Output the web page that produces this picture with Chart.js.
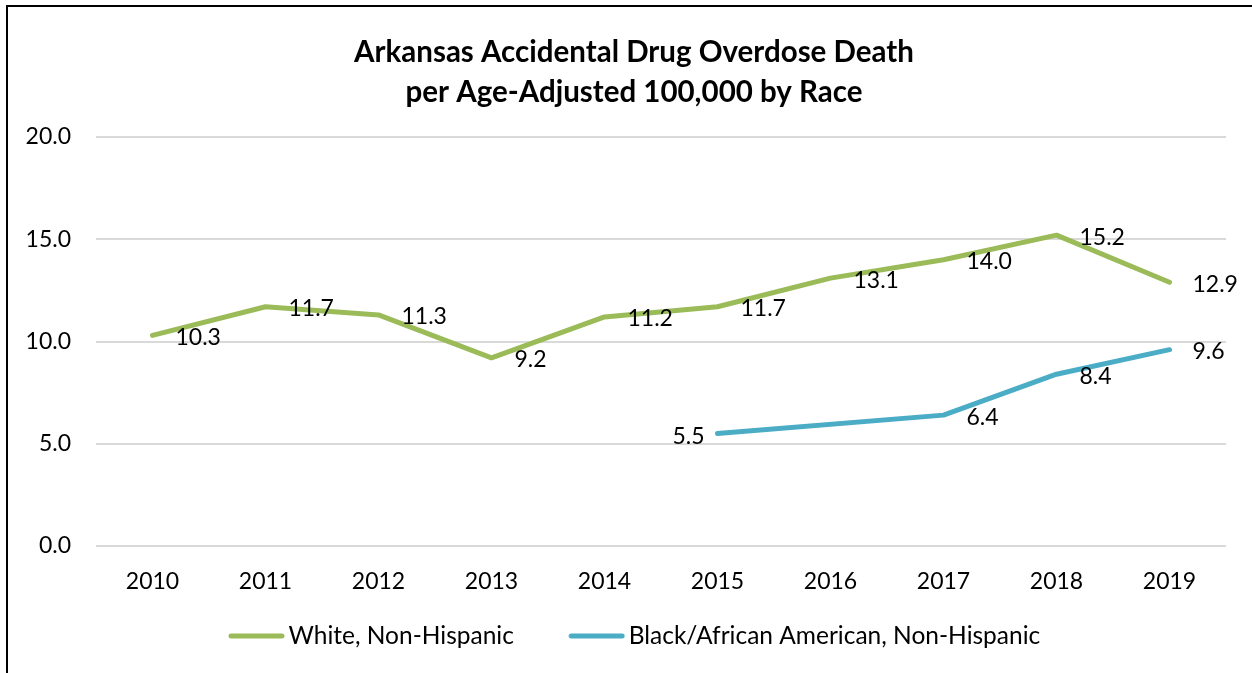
<!DOCTYPE html>
<html>
<head>
<meta charset="utf-8">
<script src="https://cdn.jsdelivr.net/npm/chart.js@4/dist/chart.umd.min.js"></script>
<style>
  html, body { margin: 0; padding: 0; background: #fff; overflow: hidden; }
  #frame { position: absolute; left: 6px; top: 5px; width: 1400px; height: 800px; border: 2px solid #000; }
  #wrap { position: absolute; left: 0; top: 0; width: 1252px; height: 673px; }
</style>
</head>
<body>
<div id="frame"></div>
<div id="wrap"><canvas id="c" width="1252" height="673"></canvas></div>
<script>
const years = ['2010','2011','2012','2013','2014','2015','2016','2017','2018','2019'];
const whiteNonHispanic = [10.3, 11.7, 11.3, 9.2, 11.2, 11.7, 13.1, 14.0, 15.2, 12.9];
const blackNonHispanic = [null, null, null, null, null, 5.5, null, 6.4, 8.4, 9.6];
const seriesNames = ['White, Non-Hispanic', 'Black/African American, Non-Hispanic'];
const titleLines = ['Arkansas Accidental Drug Overdose Death', 'per Age-Adjusted 100,000 by Race'];
const yTicks = { min: 0, max: 20, step: 5 };

const GREEN = '#9BBB59';
const BLUE = '#4BACC6';
const FONT = 'Lato';

// legend sample: line placed close to the label text inside a wider transparent image
function legendLine(color) {
  const c = document.createElement('canvas');
  c.width = 112; c.height = 8;
  const g = c.getContext('2d');
  g.strokeStyle = color; g.lineWidth = 5; g.lineCap = 'round';
  g.beginPath(); g.moveTo(57, 4); g.lineTo(108, 4); g.stroke();
  return c;
}
const legendImgs = [legendLine(GREEN), legendLine(BLUE)];

const dataLabels = {
  id: 'dataLabels',
  afterDatasetsDraw(chart) {
    const ctx = chart.ctx;
    ctx.save();
    ctx.font = '23px ' + FONT;
    ctx.fillStyle = '#000';
    ctx.textBaseline = 'middle';
    chart.data.datasets.forEach((ds, di) => {
      const meta = chart.getDatasetMeta(di);
      const leftIdx = ds.labelLeft || [];
      meta.data.forEach((pt, i) => {
        const v = ds.data[i];
        if (v === null || v === undefined) return;
        const txt = v.toFixed(1);
        if (leftIdx.includes(i)) {
          ctx.textAlign = 'right';
          ctx.fillText(txt, pt.x - 13, pt.y + 3);
        } else {
          ctx.textAlign = 'left';
          ctx.fillText(txt, pt.x + 23, pt.y + 2);
        }
      });
    });
    ctx.restore();
  }
};

const legendShift = {
  id: 'legendShift',
  afterLayout(chart) {
    const l = chart.legend;
    if (l) { l.left -= 22; l.right -= 22; }
  }
};

new Chart(document.getElementById('c'), {
  type: 'line',
  data: {
    labels: years,
    datasets: [
      { label: seriesNames[0], data: whiteNonHispanic, borderColor: GREEN, backgroundColor: GREEN,
        borderWidth: 5, tension: 0, pointRadius: 0, pointHoverRadius: 0,
        borderCapStyle: 'round', borderJoinStyle: 'round' },
      { label: seriesNames[1], data: blackNonHispanic, borderColor: BLUE, backgroundColor: BLUE,
        borderWidth: 5, tension: 0, pointRadius: 0, pointHoverRadius: 0, spanGaps: true,
        borderCapStyle: 'round', borderJoinStyle: 'round', labelLeft: [5] }
    ]
  },
  options: {
    responsive: false,
    animation: false,
    events: [],
    layout: { padding: { top: 12, left: 0, right: -16, bottom: 14.75 } },
    scales: {
      x: {
        offset: true,
        grid: { display: false, drawTicks: false },
        border: { display: false },
        ticks: { color: '#000', font: { family: FONT, size: 23 }, padding: 22, maxRotation: 0 },
        afterFit(s) { s.height = 67.75; }
      },
      y: {
        min: yTicks.min, max: yTicks.max,
        grid: { color: '#d9d9d9', lineWidth: 2, drawTicks: false },
        border: { display: false },
        ticks: { stepSize: yTicks.step, color: '#000', font: { family: FONT, size: 23 }, padding: 25,
                 callback: v => Number(v).toFixed(1) },
        afterFit(s) { s.width = 96; }
      },
      yRight: {
        type: 'linear', position: 'right', min: 0, max: 1,
        grid: { display: false, drawTicks: false },
        border: { display: false },
        ticks: { display: false },
        afterFit(s) { s.width = 42; }
      }
    },
    plugins: {
      title: {
        display: true, text: titleLines, color: '#000',
        font: { family: FONT, size: 29.5, weight: 'bold', lineHeight: 40/29.5 },
        padding: { top: 20, bottom: 25 }
      },
      legend: {
        display: true, position: 'bottom',
        labels: {
          color: '#000', font: { family: FONT, size: 24.5 },
          usePointStyle: true, pointStyleWidth: 92.5, padding: 10,
          generateLabels(chart) {
            const items = Chart.defaults.plugins.legend.labels.generateLabels(chart);
            items.forEach((it, i) => { it.pointStyle = legendImgs[i]; });
            return items;
          }
        }
      },
      tooltip: { enabled: false }
    }
  },
  plugins: [dataLabels, legendShift]
});
</script>
</body>
</html>
